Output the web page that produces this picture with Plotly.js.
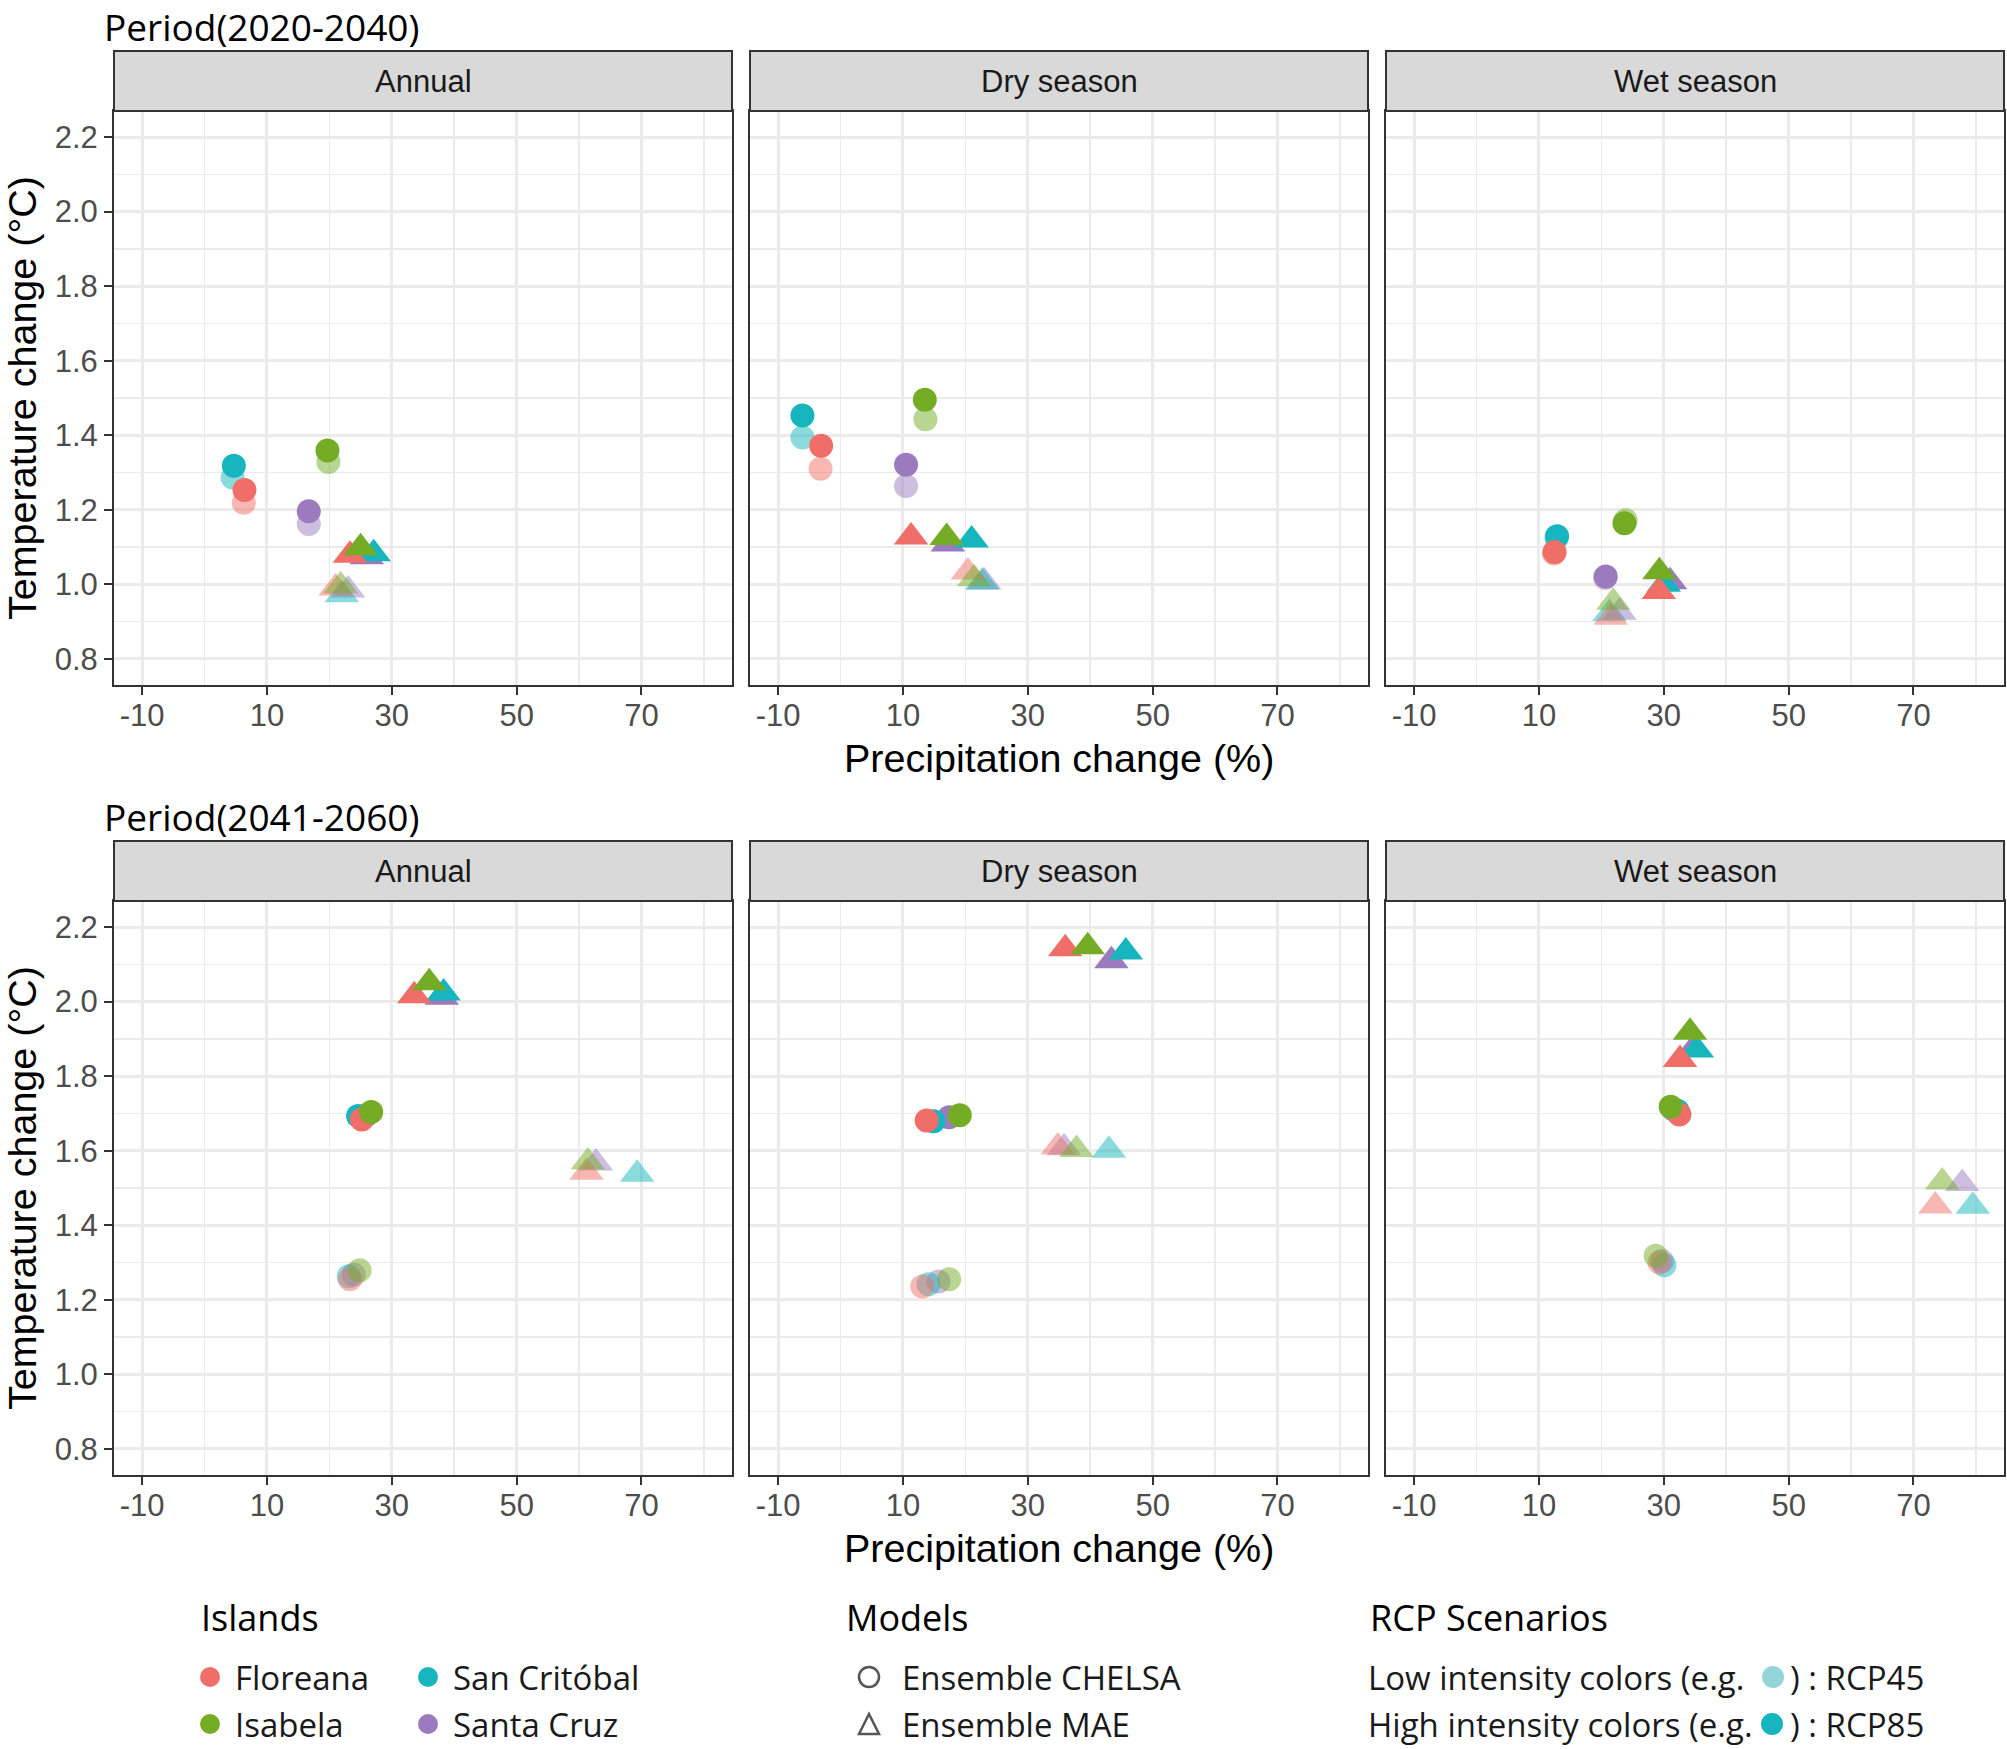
<!DOCTYPE html>
<html>
<head>
<meta charset="utf-8">
<script src="https://cdn.plot.ly/plotly-3.0.1.min.js"></script>
<style>html,body{margin:0;padding:0;background:#fff;}#chart{width:2007px;height:1749px;}</style>
</head>
<body>
<div id="chart"></div>
<script>
// ---------------- DATA ----------------
const periods = ["Period(2020-2040)", "Period(2041-2060)"];
const seasons = ["Annual", "Dry season", "Wet season"];
const islands = ["Floreana", "Isabela", "San Critóbal", "Santa Cruz"];
const islandColors = ["#EF6F68", "#74AC26", "#17B5BD", "#9B7BBD"];
const models = ["Ensemble CHELSA", "Ensemble MAE"];
const xTickVals = [-10, 10, 30, 50, 70];
const yTickVals = [0.8, 1.0, 1.2, 1.4, 1.6, 1.8, 2.0, 2.2];

// rows = panels (2020-2040 Annual, Dry, Wet, 2041-2060 Annual, Dry, Wet)
// columns = islands (Floreana, Isabela, San Critóbal, Santa Cruz)
const chelsa85Prec = [
  [6.4, 19.7, 4.7, 16.7],
  [-3.1, 13.5, -6.1, 10.5],
  [12.5, 23.7, 12.9, 20.7],
  [25.2, 26.7, 24.6, 25.8],
  [13.8, 19.1, 14.9, 17.4],
  [32.5, 31.1, 32.2, 31.5]];
const chelsa85Temp = [
  [1.253, 1.359, 1.318, 1.196],
  [1.372, 1.495, 1.453, 1.321],
  [1.087, 1.164, 1.129, 1.021],
  [1.684, 1.704, 1.693, 1.694],
  [1.681, 1.695, 1.679, 1.690],
  [1.697, 1.718, 1.707, 1.711]];
const chelsa45Prec = [
  [6.3, 19.85, 4.5, 16.7],
  [-3.2, 13.6, -6.1, 10.5],
  [12.4, 23.9, 12.8, 20.6],
  [23.3, 24.85, 23.1, 23.9],
  [13.1, 17.4, 14.1, 15.7],
  [29.3, 28.7, 30.1, 29.7]];
const chelsa45Temp = [
  [1.219, 1.328, 1.287, 1.162],
  [1.310, 1.443, 1.394, 1.264],
  [1.083, 1.172, 1.124, 1.017],
  [1.255, 1.279, 1.263, 1.268],
  [1.236, 1.255, 1.242, 1.249],
  [1.300, 1.318, 1.293, 1.304]];
const mae85Prec = [
  [23.3, 25.0, 27.1, 26.0],
  [11.3, 17.0, 21.0, 17.2],
  [29.2, 29.3, 30.0, 31.0],
  [33.6, 36.0, 38.3, 38.0],
  [36.0, 39.6, 45.7, 43.4],
  [32.6, 34.2, 35.3, 34.8]];
const mae85Temp = [
  [1.078, 1.098, 1.082, 1.074],
  [1.127, 1.126, 1.119, 1.108],
  [0.981, 1.034, 1.000, 1.007],
  [2.016, 2.051, 2.023, 2.012],
  [2.142, 2.147, 2.133, 2.110],
  [1.845, 1.918, 1.870, 1.875]];
const mae45Prec = [
  [21.0, 21.8, 22.0, 23.0],
  [20.4, 21.4, 22.7, 23.0],
  [21.5, 21.9, 21.3, 22.9],
  [61.2, 61.4, 69.3, 62.7],
  [34.8, 37.8, 43.0, 35.8],
  [73.5, 74.6, 79.5, 77.8]];
const mae45Temp = [
  [0.990, 0.996, 0.972, 0.985],
  [1.033, 1.015, 1.006, 1.007],
  [0.912, 0.952, 0.922, 0.925],
  [1.542, 1.570, 1.537, 1.567],
  [1.610, 1.603, 1.601, 1.608],
  [1.452, 1.516, 1.451, 1.512]];

// ---------------- LAYOUT GEOMETRY ----------------
const W = 2007, H = 1749;
const px = x => x / W;
const py = y => 1 - y / H;
const colX = [[114, 732], [750, 1368], [1386, 2004]];
const rowY = [[111, 685], [901, 1475]];
const stripTop = [51, 841];
const drawOrder = [3, 2, 0, 1];

const tickFont = {family: "Liberation Sans, Arial, sans-serif", size: 31, color: "#4D4D4D"};
const titleFont = {family: "Liberation Sans, Arial, sans-serif", size: 39.5, color: "#000000"};
const stripFont = {family: "Liberation Sans, Arial, sans-serif", size: 31, color: "#1A1A1A"};
const segoe = "Open Sans, Noto Sans, sans-serif";

const traces = [];
const layout = {
  width: W, height: H,
  margin: {l: 0, r: 0, t: 0, b: 0},
  paper_bgcolor: "#ffffff", plot_bgcolor: "#ffffff",
  showlegend: false,
  shapes: [], annotations: []
};

const combos = [
  {prec: chelsa45Prec, temp: chelsa45Temp, symbol: "circle", size: 24, opacity: 0.5},
  {prec: mae45Prec, temp: mae45Temp, symbol: "triangle-up", size: 30, opacity: 0.5},
  {prec: chelsa85Prec, temp: chelsa85Temp, symbol: "circle", size: 24, opacity: 1},
  {prec: mae85Prec, temp: mae85Temp, symbol: "triangle-up", size: 30, opacity: 1}
];

for (let p = 0; p < 6; p++) {
  const row = Math.floor(p / 3), col = p % 3;
  const xName = p === 0 ? "xaxis" : "xaxis" + (p + 1);
  const yName = p === 0 ? "yaxis" : "yaxis" + (p + 1);
  const xRef = p === 0 ? "x" : "x" + (p + 1);
  const yRef = p === 0 ? "y" : "y" + (p + 1);

  layout[xName] = {
    domain: [px(colX[col][0]), px(colX[col][1])],
    anchor: yRef,
    range: [-14.5, 84.5],
    tickmode: "array", tickvals: xTickVals, ticktext: xTickVals.map(String),
    showgrid: true, gridcolor: "#EBEBEB", gridwidth: 3,
    minor: {tickmode: "array", tickvals: [0, 20, 40, 60, 80], showgrid: true, gridcolor: "#EBEBEB", gridwidth: 1.6, ticks: ""},
    zeroline: false,
    showline: true, mirror: true, linecolor: "#333333", linewidth: 2,
    ticks: "outside", ticklen: 8, tickwidth: 2, tickcolor: "#333333",
    ticklabelstandoff: -6,
    tickfont: tickFont, fixedrange: true
  };
  layout[yName] = {
    domain: [py(rowY[row][1]), py(rowY[row][0])],
    anchor: xRef,
    range: [0.73, 2.27],
    tickmode: "array", tickvals: yTickVals, ticktext: yTickVals.map(v => v.toFixed(1)),
    showticklabels: col === 0,
    showgrid: true, gridcolor: "#EBEBEB", gridwidth: 3,
    minor: {tickmode: "array", tickvals: [0.9, 1.1, 1.3, 1.5, 1.7, 1.9, 2.1], showgrid: true, gridcolor: "#EBEBEB", gridwidth: 1.6, ticks: ""},
    zeroline: false,
    showline: true, mirror: true, linecolor: "#333333", linewidth: 2,
    ticks: col === 0 ? "outside" : "", ticklen: 8, tickwidth: 2, tickcolor: "#333333",
    tickfont: tickFont, fixedrange: true
  };

  combos.forEach(c => {
    traces.push({
      type: "scatter", mode: "markers",
      xaxis: xRef, yaxis: yRef,
      x: drawOrder.map(i => c.prec[p][i]),
      y: drawOrder.map(i => c.temp[p][i]),
      marker: {
        symbol: c.symbol, size: c.size, opacity: c.opacity,
        color: drawOrder.map(i => islandColors[i]),
        line: {width: 0}
      },
      hoverinfo: "skip"
    });
  });

  // strip
  layout.shapes.push({
    type: "rect", xref: "paper", yref: "paper",
    x0: px(colX[col][0]), x1: px(colX[col][1]),
    y0: py(rowY[row][0]), y1: py(stripTop[row]),
    fillcolor: "#D9D9D9", line: {color: "#333333", width: 2}, layer: "above"
  });
  layout.annotations.push({
    xref: "paper", yref: "paper",
    x: px((colX[col][0] + colX[col][1]) / 2), y: py((stripTop[row] + rowY[row][0]) / 2),
    xanchor: "center", yanchor: "middle", showarrow: false,
    text: seasons[col], font: stripFont
  });
}

// period titles, axis titles
periods.forEach((t, r) => {
  layout.annotations.push({
    xref: "paper", yref: "paper", x: px(103), y: py(stripTop[r] - 51),
    xanchor: "left", yanchor: "top", showarrow: false, borderpad: 0,
    text: t, font: {family: segoe, size: 37, color: "#000000"}
  });
  layout.annotations.push({
    xref: "paper", yref: "paper", x: px(22), y: py((rowY[r][0] + rowY[r][1]) / 2),
    xanchor: "center", yanchor: "middle", showarrow: false, textangle: -90,
    text: "Temperature change (°C)", font: titleFont
  });
  layout.annotations.push({
    xref: "paper", yref: "paper", x: px((colX[1][0] + colX[1][1]) / 2), y: py(rowY[r][1] + 73),
    xanchor: "center", yanchor: "middle", showarrow: false,
    text: "Precipitation change (%)", font: titleFont
  });
});

// ---------------- LEGEND ----------------
const legTitleFont = {family: segoe, size: 36, color: "#000000"};
const legFont = {family: segoe, size: 33, color: "#1A1A1A"};
function txt(x, y, s, font, anchor) {
  layout.annotations.push({xref: "paper", yref: "paper", x: px(x), y: py(y),
    xanchor: anchor || "left", yanchor: "middle", showarrow: false, text: s, font: font});
}
function dot(cx, cy, r, fill, lineColor, lw) {
  layout.shapes.push({type: "circle", xref: "paper", yref: "paper",
    x0: px(cx - r), x1: px(cx + r), y0: py(cy + r), y1: py(cy - r),
    fillcolor: fill, line: {color: lineColor || fill, width: lw || 0}});
}
txt(199, 1617, "Islands", legTitleFont);
txt(844, 1617, "Models", legTitleFont);
txt(1368, 1617, "RCP Scenarios", legTitleFont);
const legPos = [[210, 1677], [210, 1724], [428, 1677], [428, 1724]];
islands.forEach((name, i) => {
  dot(legPos[i][0], legPos[i][1], 10, islandColors[i]);
  txt(legPos[i][0] + 23, legPos[i][1], name, legFont);
});
dot(869, 1677, 10, "rgba(0,0,0,0)", "#555555", 2.5);
txt(900, 1677, models[0], legFont);
layout.shapes.push({type: "path", xref: "paper", yref: "paper",
  path: `M ${px(869)} ${py(1714)} L ${px(879)} ${py(1734)} L ${px(859)} ${py(1734)} Z`,
  fillcolor: "rgba(0,0,0,0)", line: {color: "#555555", width: 2.5}});
txt(900, 1724, models[1], legFont);
txt(1366, 1677, "Low intensity colors (e.g.", legFont);
dot(1773, 1677, 11, "#93D5D9");
txt(1926, 1677, ") : RCP45", legFont, "right");
txt(1366, 1724, "High intensity colors (e.g.", legFont);
dot(1772, 1724, 11, "#17B5BD");
txt(1926, 1724, ") : RCP85", legFont, "right");

Plotly.newPlot("chart", traces, layout, {staticPlot: true, displayModeBar: false});
</script>
</body>
</html>
